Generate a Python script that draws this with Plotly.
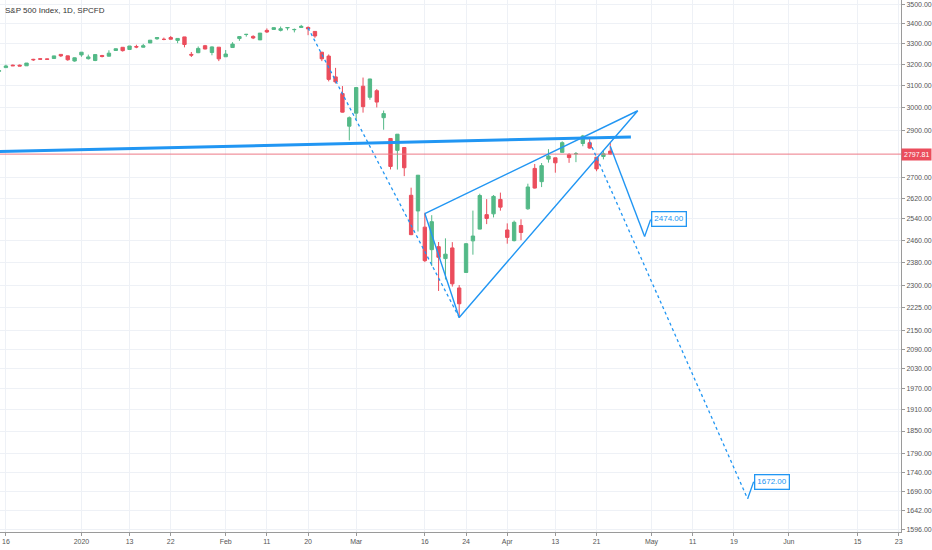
import math
import pandas as pd
import plotly.graph_objects as go

# daily candles, SPCFD
dates = ['2019-12-13', '2019-12-16', '2019-12-17', '2019-12-18', '2019-12-19', '2019-12-20',
         '2019-12-23', '2019-12-24', '2019-12-26', '2019-12-27', '2019-12-30', '2019-12-31',
         '2020-01-02', '2020-01-03', '2020-01-06', '2020-01-07', '2020-01-08', '2020-01-09',
         '2020-01-10', '2020-01-13', '2020-01-14', '2020-01-15', '2020-01-16', '2020-01-17',
         '2020-01-21', '2020-01-22', '2020-01-23', '2020-01-24', '2020-01-27', '2020-01-28',
         '2020-01-29', '2020-01-30', '2020-01-31', '2020-02-03', '2020-02-04', '2020-02-05',
         '2020-02-06', '2020-02-07', '2020-02-10', '2020-02-11', '2020-02-12', '2020-02-13',
         '2020-02-14', '2020-02-18', '2020-02-19', '2020-02-20', '2020-02-21', '2020-02-24',
         '2020-02-25', '2020-02-26', '2020-02-27', '2020-02-28', '2020-03-02', '2020-03-03',
         '2020-03-04', '2020-03-05', '2020-03-06', '2020-03-09', '2020-03-10', '2020-03-11',
         '2020-03-12', '2020-03-13', '2020-03-16', '2020-03-17', '2020-03-18', '2020-03-19',
         '2020-03-20', '2020-03-23', '2020-03-24', '2020-03-25', '2020-03-26', '2020-03-27',
         '2020-03-30', '2020-03-31', '2020-04-01', '2020-04-02', '2020-04-03', '2020-04-06',
         '2020-04-07', '2020-04-08', '2020-04-09', '2020-04-13', '2020-04-14', '2020-04-15',
         '2020-04-16', '2020-04-17', '2020-04-20', '2020-04-21', '2020-04-22', '2020-04-23']
opens = [3166.65, 3183.63, 3195.40, 3195.21, 3192.32, 3223.33,
         3226.05, 3225.45, 3227.20, 3247.23, 3240.09, 3215.18,
         3244.67, 3226.36, 3217.55, 3241.86, 3238.59, 3266.03,
         3281.81, 3271.13, 3285.35, 3282.27, 3302.97, 3323.66,
         3321.03, 3330.02, 3315.77, 3333.10, 3247.16, 3255.35,
         3289.46, 3256.45, 3282.33, 3235.66, 3280.61, 3324.91,
         3344.92, 3335.54, 3318.28, 3365.87, 3370.50, 3365.90,
         3378.08, 3369.04, 3380.39, 3380.45, 3360.50, 3257.61,
         3238.94, 3139.90, 3062.54, 2916.90, 2974.28, 3096.46,
         3045.75, 3075.70, 2954.20, 2863.89, 2813.48, 2825.60,
         2630.86, 2569.99, 2508.59, 2425.66, 2436.50, 2393.48,
         2431.94, 2290.71, 2344.44, 2457.77, 2501.29, 2555.87,
         2558.98, 2614.69, 2498.08, 2458.54, 2514.92, 2578.28,
         2738.65, 2685.00, 2776.99, 2782.46, 2805.10, 2795.64,
         2799.34, 2842.43, 2845.62, 2784.81, 2787.89, 2810.42]
highs = [3182.68, 3197.71, 3198.22, 3198.48, 3205.48, 3225.65,
         3227.78, 3226.43, 3240.08, 3247.93, 3240.92, 3231.72,
         3258.14, 3246.15, 3246.84, 3244.91, 3267.07, 3275.58,
         3282.99, 3288.13, 3294.25, 3298.66, 3317.11, 3329.88,
         3329.79, 3337.77, 3326.88, 3333.18, 3258.85, 3285.78,
         3293.47, 3285.91, 3282.33, 3268.44, 3306.92, 3337.58,
         3347.96, 3341.42, 3352.26, 3375.63, 3381.47, 3385.09,
         3380.69, 3375.01, 3393.52, 3385.96, 3360.76, 3259.81,
         3246.99, 3182.51, 3097.07, 2959.72, 3090.96, 3136.72,
         3130.97, 3083.04, 2985.93, 2863.89, 2882.59, 2825.60,
         2660.95, 2711.33, 2562.98, 2553.93, 2453.57, 2466.97,
         2453.01, 2300.73, 2449.71, 2571.42, 2637.01, 2615.91,
         2631.80, 2641.39, 2522.75, 2533.22, 2538.18, 2676.85,
         2756.89, 2760.75, 2818.57, 2782.46, 2851.85, 2801.88,
         2806.51, 2879.22, 2868.98, 2785.54, 2815.10, 2844.90]
lows = [3156.51, 3183.63, 3191.03, 3191.14, 3192.32, 3216.03,
        3222.30, 3220.51, 3227.20, 3234.37, 3216.57, 3212.03,
        3235.53, 3222.34, 3214.64, 3232.43, 3236.67, 3263.67,
        3260.86, 3268.43, 3277.19, 3280.69, 3302.82, 3318.86,
        3316.61, 3320.04, 3301.87, 3281.53, 3234.50, 3253.22,
        3271.89, 3242.80, 3214.68, 3235.66, 3280.61, 3313.75,
        3334.39, 3322.12, 3317.77, 3352.72, 3369.72, 3360.52,
        3366.15, 3355.61, 3378.83, 3341.69, 3328.45, 3214.65,
        3118.77, 3108.99, 2977.39, 2855.84, 2945.19, 2976.63,
        3034.38, 2999.83, 2901.54, 2734.43, 2734.00, 2707.22,
        2478.86, 2492.37, 2380.94, 2367.04, 2280.52, 2319.78,
        2295.56, 2191.86, 2344.44, 2407.53, 2500.72, 2520.02,
        2545.28, 2571.15, 2447.49, 2455.79, 2459.96, 2574.57,
        2657.67, 2663.30, 2762.36, 2721.17, 2805.10, 2761.54,
        2764.32, 2830.88, 2820.43, 2727.10, 2775.95, 2794.26]
closes = [3168.80, 3191.45, 3192.52, 3191.14, 3205.37, 3221.22,
          3224.01, 3223.38, 3239.91, 3240.02, 3221.29, 3230.78,
          3257.85, 3234.85, 3246.28, 3237.18, 3253.05, 3274.70,
          3265.35, 3288.13, 3283.15, 3289.29, 3316.81, 3329.62,
          3320.79, 3321.75, 3325.54, 3295.47, 3243.63, 3276.24,
          3273.40, 3283.66, 3225.52, 3248.92, 3297.59, 3334.69,
          3345.78, 3327.71, 3352.09, 3357.75, 3379.45, 3373.94,
          3380.16, 3370.29, 3386.15, 3373.23, 3337.75, 3225.89,
          3128.21, 3116.39, 2978.76, 2954.22, 3090.23, 3003.37,
          3130.12, 3023.94, 2972.37, 2746.56, 2882.23, 2741.38,
          2480.64, 2711.02, 2386.13, 2529.19, 2398.10, 2409.39,
          2304.92, 2237.40, 2447.33, 2475.56, 2630.07, 2541.47,
          2626.65, 2584.59, 2470.50, 2526.90, 2488.65, 2663.68,
          2659.41, 2749.98, 2789.82, 2761.63, 2846.06, 2783.36,
          2799.55, 2874.56, 2823.16, 2736.56, 2799.31, 2797.81]
last_price = 2797.81

# x axis labels
x_tick_dates = ['2019-12-16', '2020-01-02', '2020-01-13', '2020-01-22', '2020-02-03', '2020-02-11',
                '2020-02-20', '2020-03-02', '2020-03-16', '2020-03-24', '2020-04-01', '2020-04-13',
                '2020-04-21', '2020-05-01', '2020-05-11', '2020-05-19', '2020-06-01', '2020-06-15',
                '2020-06-23']
x_tick_text = ['16', '2020', '13', '22', 'Feb', '11', '20', 'Mar', '16', '24', 'Apr', '13',
               '21', 'May', '11', '19', 'Jun', '15', '23']
y_ticks = [3500, 3400, 3300, 3200, 3100, 3000, 2900, 2700, 2620, 2540, 2460, 2380, 2300,
           2225, 2150, 2090, 2030, 1970, 1910, 1850, 1790, 1740, 1690, 1642, 1596]

# drawings (date, price)
trend_dates = ['2019-12-12', '2020-04-28']
trend_prices = [2808, 2870]
drop_dates = ['2020-02-20', '2020-03-23']
drop_prices = [3378, 2192]
wedge_dates = ['2020-03-16', '2020-03-23', '2020-04-29', '2020-03-16']
wedge_prices = [2560, 2192, 2985, 2560]
target_dates = ['2020-04-23', '2020-04-30']
target_prices = [2831, 2474]
proj_dates = ['2020-04-20', '2020-05-21']
proj_prices = [2850, 1672]

# trading calendar (no weekends / exchange holidays), Dec 16 = 0
holidays = ['2019-12-25', '2020-01-01', '2020-01-20', '2020-02-17', '2020-04-10', '2020-05-25']
cal = [d.strftime('%Y-%m-%d') for d in pd.bdate_range('2019-12-09', '2020-07-10')]
cal = [d for d in cal if d not in holidays]
zero = cal.index('2019-12-16')
pos = {d: i - zero for i, d in enumerate(cal)}


def px(ds):
    return [pos[d] for d in ds]


BLUE = '#2196f3'
UP = '#53b987'
DOWN = '#eb4d5c'
FONT = 'Liberation Sans'

fig = go.Figure()
fig.add_trace(go.Candlestick(
    x=px(dates), open=opens, high=highs, low=lows, close=closes,
    increasing=dict(line=dict(color=UP, width=1), fillcolor=UP),
    decreasing=dict(line=dict(color=DOWN, width=1), fillcolor=DOWN),
    whiskerwidth=0, hoverinfo='skip', showlegend=False
))

# last price line
fig.add_trace(go.Scatter(x=[-5, 135], y=[last_price, last_price], mode='lines',
                         line=dict(color='#ee7a86', width=1), hoverinfo='skip', showlegend=False))

lines = [
    (trend_dates, trend_prices, 3, 'solid'),
    (drop_dates, drop_prices, 1.3, 'dot'),
    (wedge_dates, wedge_prices, 1.4, 'solid'),
    (target_dates, target_prices, 1.4, 'solid'),
    (proj_dates, proj_prices, 1.3, 'dot'),
]
for ds, ps, w, dash in lines:
    fig.add_trace(go.Scatter(x=px(ds), y=ps, mode='lines',
                             line=dict(color=BLUE, width=w, dash=dash),
                             hoverinfo='skip', showlegend=False))

# price label callouts
for d, p in [(target_dates[-1], target_prices[-1]), (proj_dates[-1], proj_prices[-1])]:
    fig.add_annotation(x=pos[d], y=math.log10(p), text='%.2f' % p,
                       showarrow=True, arrowhead=0, arrowwidth=1.3, arrowcolor=BLUE,
                       ax=6, ay=-17, xanchor='left', yanchor='middle',
                       bgcolor='white', bordercolor=BLUE, borderwidth=1.3, borderpad=2,
                       font=dict(family=FONT, size=8, color=BLUE))

fig.add_annotation(xref='paper', yref='y', x=1, y=math.log10(last_price), text='2797.81',
                   showarrow=False, xanchor='left', yanchor='middle',
                   bgcolor=DOWN, borderpad=2, font=dict(family=FONT, size=7, color='white'))

fig.add_annotation(xref='paper', yref='paper', x=0, y=1, xshift=3, yshift=-4,
                   text='S&P 500 Index, 1D, SPCFD', showarrow=False,
                   xanchor='left', yanchor='top', font=dict(family=FONT, size=8, color='#333333'))

fig.update_layout(
    width=932, height=550,
    margin=dict(l=0, r=29, t=0, b=18),
    paper_bgcolor='white', plot_bgcolor='white',
    font=dict(family=FONT, size=7, color='#555555'),
    xaxis=dict(range=[-0.86, 130.33], rangeslider=dict(visible=False),
               tickvals=px(x_tick_dates), ticktext=x_tick_text,
               showgrid=True, gridcolor='#eef1f6', zeroline=False,
               showline=True, linecolor='#9a9a9a', linewidth=1,
               ticks='outside', ticklen=3, tickcolor='#9a9a9a'),
    yaxis=dict(type='log', side='right', range=[math.log10(1591), math.log10(3522)],
               tickvals=y_ticks, ticktext=['%.2f' % v for v in y_ticks],
               showgrid=True, gridcolor='#eef1f6', zeroline=False,
               showline=True, linecolor='#9a9a9a', linewidth=1,
               ticks='outside', ticklen=3, tickcolor='#9a9a9a'),
)

# the page body has a default 8px margin; drop it so the chart fills the window
fig.write_html("out.html", config={'displayModeBar': False},
               post_script="document.body.style.margin='0';")
